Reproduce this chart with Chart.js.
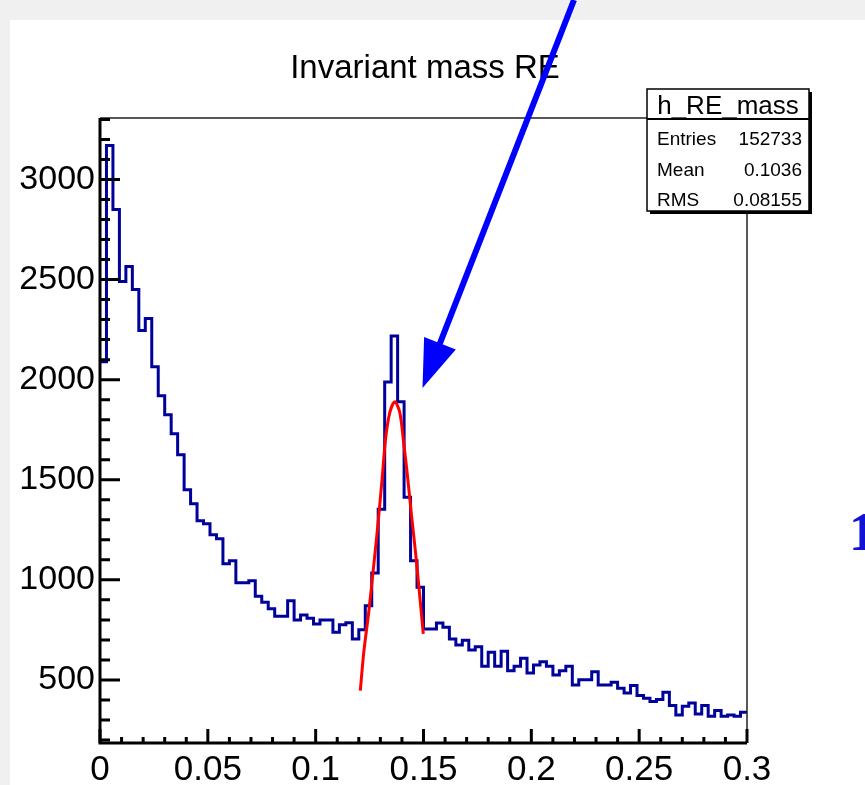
<!DOCTYPE html>
<html>
<head>
<meta charset="utf-8">
<script src="https://cdn.jsdelivr.net/npm/chart.js@4.4.1/dist/chart.umd.min.js"></script>
<style>
  html, body { margin: 0; padding: 0; background: #f0f0f0; overflow: hidden; }
  canvas { display: block; }
</style>
</head>
<body>
<canvas id="massChart" width="865" height="785"></canvas>
<script>
// h_RE_mass : 100 bins between 0 and 0.3
const binLow = 0;
const binWidth = 0.003;
const counts = [
  2090, 3170, 2850, 2490, 2565, 2450, 2245, 2305, 2065, 1920,
  1825, 1730, 1625, 1450, 1380, 1295, 1280, 1225, 1205, 1080,
  1095,  985,  985,  995,  918,  888,  855,  818,  818,  895,
   800,  824,  808,  780,  800,  800,  738,  776,  786,  705,
   751,  871, 1034, 1353, 1988, 2218, 1889, 1412, 1095,  963,
   754,  754,  784,  763,  705,  675,  698,  650,  666,  568,
   638,  568,  643,  546,  568,  608,  535,  575,  591,  568,
   525,  546,  568,  475,  501,  501,  541,  475,  475,  488,
   459,  435,  472,  422,  409,  392,  402,  439,  372,  325,
   369,  385,  330,  372,  319,  347,  319,  325,  319,  339
];

// red fit curve
const fitX = [0.1207, 0.1223, 0.1246, 0.1269, 0.1288, 0.1308, 0.1324, 0.1344,
              0.1367, 0.1390, 0.1408, 0.1424, 0.1443, 0.1463, 0.1481, 0.1499];
const fitY = [447, 638, 838, 1070, 1270, 1503, 1703, 1836,
              1889, 1836, 1686, 1536, 1337, 1137, 938, 730];

const xTickLabels = [0, 0.05, 0.1, 0.15, 0.2, 0.25, 0.3];
const yTickLabels = [500, 1000, 1500, 2000, 2500, 3000];

const histTitle = 'Invariant mass RE';
const statsName = 'h_RE_mass';
const statsNames = ['Entries', 'Mean', 'RMS'];
const statsValues = ['152733', '0.1036', '0.08155'];

const histPoints = counts.map((c, i) => ({ x: binLow + i * binWidth, y: c }));
histPoints.push({ x: binLow + counts.length * binWidth, y: counts[counts.length - 1] });
const fitPoints = fitX.map((x, i) => ({ x: x, y: fitY[i] }));

const font = 'Liberation Sans, Arial, sans-serif';

const rootPad = {
  id: 'rootPad',
  beforeDraw(chart) {
    const ctx = chart.ctx;
    ctx.save();
    ctx.fillStyle = '#f0f0f0';
    ctx.fillRect(0, 0, chart.width, chart.height);
    ctx.fillStyle = '#fff';
    ctx.fillRect(10, 20, chart.width - 10, chart.height - 20);
    ctx.restore();
  },
  afterDraw(chart) {
    const ctx = chart.ctx;
    const a = chart.chartArea;
    const xs = chart.scales.x, ys = chart.scales.y;
    ctx.save();

    // frame
    ctx.strokeStyle = '#222';
    ctx.lineWidth = 1.5;
    ctx.beginPath();
    ctx.moveTo(a.left, a.top); ctx.lineTo(a.right, a.top); ctx.lineTo(a.right, a.bottom);
    ctx.stroke();
    ctx.strokeStyle = '#000';
    ctx.lineWidth = 3;
    ctx.beginPath();
    ctx.moveTo(a.left, a.top); ctx.lineTo(a.left, a.bottom); ctx.lineTo(a.right, a.bottom);
    ctx.stroke();

    // ticks, drawn inside the frame like ROOT does
    ctx.lineWidth = 3;
    ctx.beginPath();
    for (let k = 0; k <= 30; k++) {
      const px = xs.getPixelForValue(k / 100);
      const len = k % 5 === 0 ? 14 : 6;
      ctx.moveTo(px, a.bottom); ctx.lineTo(px, a.bottom - len);
    }
    for (let v = 200; v <= 3300; v += 100) {
      if (v < ys.min || v > ys.max) continue;
      const py = ys.getPixelForValue(v);
      const len = v % 500 === 0 ? 20 : 10;
      ctx.moveTo(a.left, py); ctx.lineTo(a.left + len, py);
    }
    ctx.stroke();

    // title
    ctx.fillStyle = '#000';
    ctx.font = '33px ' + font;
    ctx.textAlign = 'center';
    ctx.textBaseline = 'alphabetic';
    ctx.fillText(histTitle, 425, 78);

    // stats box
    const bx = 647, by = 89, bw = 162, bh = 122;
    ctx.fillStyle = '#000';
    ctx.fillRect(bx + bw, by + 3, 3, bh);
    ctx.fillRect(bx + 3, by + bh, bw, 3);
    ctx.fillStyle = '#fff';
    ctx.fillRect(bx, by, bw, bh);
    ctx.strokeStyle = '#000';
    ctx.lineWidth = 1.5;
    ctx.strokeRect(bx, by, bw, bh);
    ctx.lineWidth = 2;
    ctx.beginPath();
    ctx.moveTo(bx, by + 30); ctx.lineTo(bx + bw, by + 30);
    ctx.stroke();
    ctx.fillStyle = '#000';
    ctx.font = '26px ' + font;
    ctx.textAlign = 'center';
    ctx.fillText(statsName, bx + bw / 2, by + 25);
    ctx.font = '19px ' + font;
    statsNames.forEach((n, i) => {
      const base = by + 56 + i * 30.5;
      ctx.textAlign = 'left';
      ctx.fillText(n, bx + 10, base);
      ctx.textAlign = 'right';
      ctx.fillText(statsValues[i], bx + bw - 7, base);
    });

    // blue arrow pointing at the peak
    const sx = 574, sy = 0, tx = 422.5, ty = 388;
    const dx = tx - sx, dy = ty - sy, L = Math.hypot(dx, dy);
    const ux = dx / L, uy = dy / L;
    const hl = 48, hw = 17;
    const cx = tx - hl * ux, cy = ty - hl * uy;
    ctx.strokeStyle = '#0000ff';
    ctx.fillStyle = '#0000ff';
    ctx.lineWidth = 6;
    ctx.beginPath();
    ctx.moveTo(sx, sy); ctx.lineTo(cx + 2 * ux, cy + 2 * uy);
    ctx.stroke();
    ctx.beginPath();
    ctx.moveTo(tx, ty);
    ctx.lineTo(cx - hw * uy, cy + hw * ux);
    ctx.lineTo(cx + hw * uy, cy - hw * ux);
    ctx.closePath();
    ctx.fill();

    // edge of a neighbouring label, cut by the page
    ctx.fillStyle = '#1212d6';
    ctx.font = 'bold 54px Liberation Serif, serif';
    ctx.textAlign = 'left';
    ctx.fillText('1', 849, 550);

    ctx.restore();
  }
};

new Chart(document.getElementById('massChart'), {
  type: 'scatter',
  data: {
    datasets: [
      {
        label: 'fit',
        data: fitPoints,
        showLine: true,
        borderColor: '#ff0000',
        borderWidth: 3,
        pointRadius: 0,
        tension: 0.3,
        order: 0
      },
      {
        label: statsName,
        data: histPoints,
        showLine: true,
        stepped: 'before',
        borderColor: '#00009a',
        borderWidth: 3,
        pointRadius: 0,
        order: 1
      }
    ]
  },
  options: {
    responsive: false,
    devicePixelRatio: 1,
    animation: false,
    layout: { padding: { left: 10, top: 118, right: 118, bottom: 0 } },
    plugins: { legend: { display: false }, tooltip: { enabled: false } },
    scales: {
      x: {
        type: 'linear', min: 0, max: 0.3,
        grid: { display: false, drawTicks: false },
        border: { display: false },
        afterBuildTicks: s => { s.ticks = xTickLabels.map(v => ({ value: v })); },
        afterFit: s => { s.height = 42; },
        ticks: {
          autoSkip: false, maxRotation: 0, padding: 6, color: '#000',
          font: { family: font, size: 35 },
          callback: v => String(+v.toFixed(2))
        }
      },
      y: {
        type: 'linear', min: 185, max: 3307,
        grid: { display: false, drawTicks: false },
        border: { display: false },
        afterBuildTicks: s => { s.ticks = yTickLabels.map(v => ({ value: v })); },
        afterFit: s => { s.width = 90; },
        ticks: {
          autoSkip: false, padding: 5, color: '#000',
          font: { family: font, size: 34 },
          callback: v => String(v)
        }
      }
    }
  },
  plugins: [rootPad]
});
</script>
</body>
</html>
